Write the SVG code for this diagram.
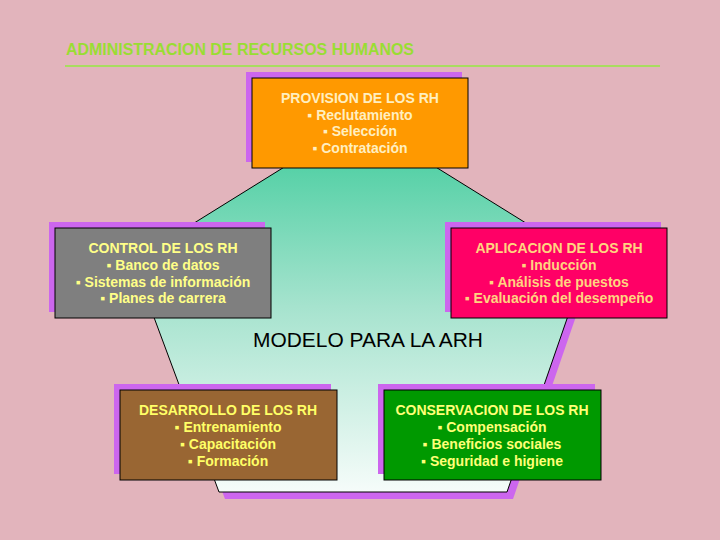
<svg xmlns="http://www.w3.org/2000/svg" width="720" height="540" viewBox="0 0 720 540">
<defs>
<linearGradient id="pg" x1="0" y1="120" x2="0" y2="493" gradientUnits="userSpaceOnUse">
<stop offset="0" stop-color="#3CCB9A"/>
<stop offset="0.5" stop-color="#A6E3CE"/>
<stop offset="1" stop-color="#F6FCFA"/>
</linearGradient>
<style>
.sh{fill:#CC66EE}
.bx{stroke:#000;stroke-width:1}
.t{font-family:"Liberation Sans",Arial,sans-serif;font-size:14px;font-weight:bold;text-anchor:middle}
</style>
</defs>
<rect width="720" height="540" fill="#E2B4BC"/>
<text x="66" y="55" font-family="Liberation Sans,Arial,sans-serif" font-size="16" font-weight="bold" fill="#99DD33" textLength="348" lengthAdjust="spacingAndGlyphs">ADMINISTRACION DE RECURSOS HUMANOS</text>
<line x1="65" y1="66" x2="660" y2="66" stroke="#A8DC60" stroke-width="2"/>
<g id="pentagon">
<polygon points="366,126 593,267 513,499 225,499 139,267" fill="#CC66EE"/>
<polygon points="360,120 587,261 507,492 219,492 133,261" fill="url(#pg)" stroke="#000" stroke-width="1"/>
<text x="368" y="347" font-family="Liberation Sans,Arial,sans-serif" font-size="20" fill="#000" text-anchor="middle" textLength="230" lengthAdjust="spacingAndGlyphs">MODELO PARA LA ARH</text>
</g>
<g id="provision">
<rect class="sh" x="246" y="72" width="216" height="90"/>
<rect class="bx" x="252" y="78" width="216" height="90" fill="#FF9900"/>
<g class="t" fill="#FFEFC0">
<text x="360" y="103">PROVISION DE LOS RH</text>
<text x="360" y="120">▪ Reclutamiento</text>
<text x="360" y="136">▪ Selección</text>
<text x="360" y="153">▪ Contratación</text>
</g>
</g>
<g id="control">
<rect class="sh" x="49" y="222" width="216" height="90"/>
<rect class="bx" x="55" y="228" width="216" height="90" fill="#7F7F7F"/>
<g class="t" fill="#FFFF88">
<text x="163" y="253">CONTROL DE LOS RH</text>
<text x="163" y="270">▪ Banco de datos</text>
<text x="163" y="287">▪ Sistemas de información</text>
<text x="163" y="303">▪ Planes de carrera</text>
</g>
</g>
<g id="aplicacion">
<rect class="sh" x="445" y="222" width="216" height="90"/>
<rect class="bx" x="451" y="228" width="216" height="90" fill="#FF0066"/>
<g class="t" fill="#FFD480">
<text x="559" y="253">APLICACION DE LOS RH</text>
<text x="559" y="270">▪ Inducción</text>
<text x="559" y="287">▪ Análisis de puestos</text>
<text x="559" y="303">▪ Evaluación del desempeño</text>
</g>
</g>
<g id="desarrollo">
<rect class="sh" x="114" y="384" width="217" height="90"/>
<rect class="bx" x="120" y="390" width="217" height="90" fill="#996633"/>
<g class="t" fill="#FFFF66">
<text x="228" y="415">DESARROLLO DE LOS RH</text>
<text x="228" y="432">▪ Entrenamiento</text>
<text x="228" y="449">▪ Capacitación</text>
<text x="228" y="466">▪ Formación</text>
</g>
</g>
<g id="conservacion">
<rect class="sh" x="378" y="384" width="217" height="90"/>
<rect class="bx" x="384" y="390" width="217" height="90" fill="#009900"/>
<g class="t" fill="#FFFF77">
<text x="492" y="415">CONSERVACION DE LOS RH</text>
<text x="492" y="432">▪ Compensación</text>
<text x="492" y="449">▪ Beneficios sociales</text>
<text x="492" y="466">▪ Seguridad e higiene</text>
</g>
</g>
<g id="connectors"></g>
</svg>
